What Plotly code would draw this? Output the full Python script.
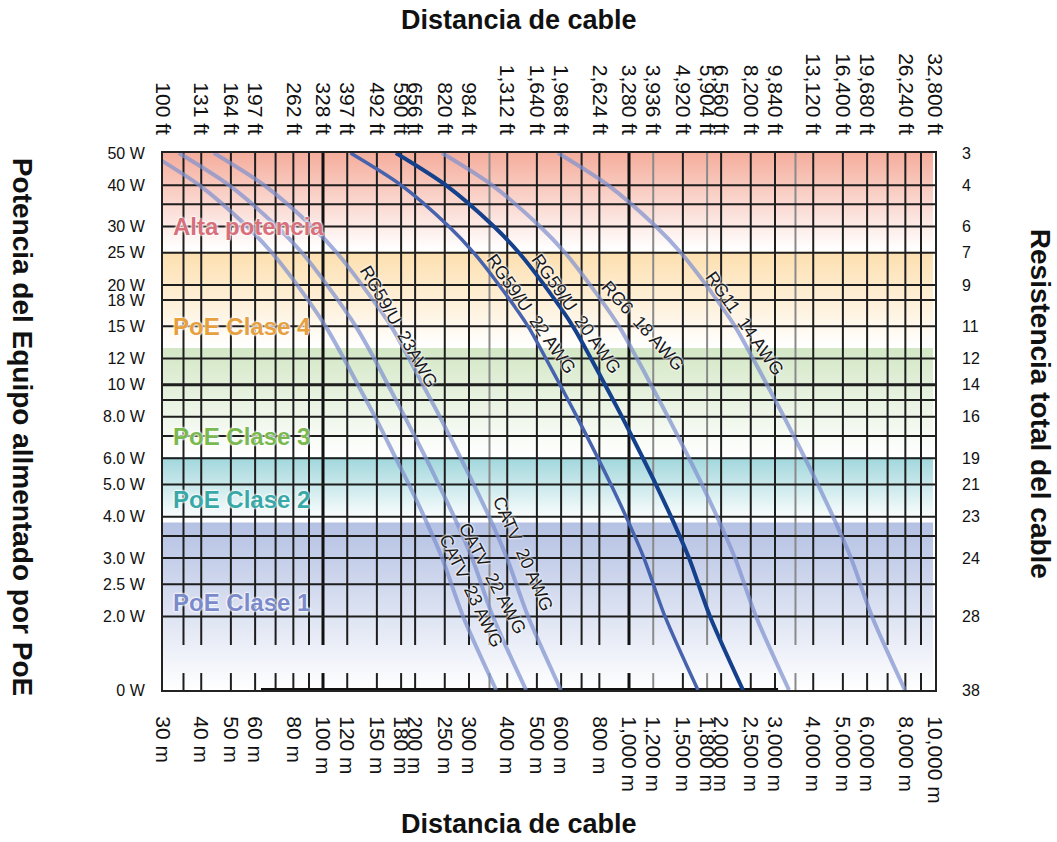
import math
import plotly.graph_objects as go

# ---------------- data ----------------
tick_m = [30, 40, 50, 60, 80, 100, 120, 150, 180, 200, 250, 300, 400, 500, 600, 800,
          1000, 1200, 1500, 1800, 2000, 2500, 3000, 4000, 5000, 6000, 8000, 10000]
tick_m_text = ["30 m", "40 m", "50 m", "60 m", "80 m", "100 m", "120 m", "150 m", "180 m",
               "200 m", "250 m", "300 m", "400 m", "500 m", "600 m", "800 m", "1,000 m",
               "1,200 m", "1,500 m", "1,800 m", "2,000 m", "2,500 m", "3,000 m", "4,000 m",
               "5,000 m", "6,000 m", "8,000 m", "10,000 m"]
tick_ft_text = ["100 ft", "131 ft", "164 ft", "197 ft", "262 ft", "328 ft", "397 ft", "492 ft",
                "590 ft", "656 ft", "820 ft", "984 ft", "1,312 ft", "1,640 ft", "1,968 ft",
                "2,624 ft", "3,280 ft", "3,936 ft", "4,920 ft", "5,904 ft", "6,560 ft",
                "8,200 ft", "9,840 ft", "13,120 ft", "16,400 ft", "19,680 ft", "26,240 ft",
                "32,800 ft"]

grid_m_dark = [35, 40, 50, 60, 70, 80, 90, 120, 150, 180, 200, 250, 300, 400, 500, 600, 700,
               800, 1500, 2000, 2500, 3000, 4000, 5000, 6000, 7000, 8000, 9000]
grid_m_gray = [350, 1200, 1800, 3500]
grid_m_thick = [100, 1000]

power_ticks = [50, 40, 30, 25, 20, 18, 15, 12, 10, 8, 6, 5, 4, 3, 2.5, 2, 1.2]
power_text = ["50 W", "40 W", "30 W", "25 W", "20 W", "18 W", "15 W", "12 W", "10 W",
              "8.0 W", "6.0 W", "5.0 W", "4.0 W", "3.0 W", "2.5 W", "2.0 W", "0 W"]
grid_w = [40, 35, 30, 25, 20, 18, 15, 12, 9, 8, 7, 6, 5, 4, 3.5, 3, 2.5, 2]
grid_w_thick = [10]

res_ticks = [50, 40, 30, 25, 20, 15, 12, 10, 8, 6, 5, 4, 3, 2, 1.2]
res_text = ["3", "4", "6", "7", "9", "11", "12", "14", "16", "19", "21", "23", "24", "28", "38"]

P_MIN, P_MAX = 1.2, 50          # "0 W" sits at the bottom of the log axis
D_MIN, D_MAX = 30, 10000
BAND_X_END = 9850
GAP_TOP, GAP_BOTTOM = 1.64, 1.35
bottom_bar_m = [62.7, 3070]

band_names = ["Alta potencia", "PoE Clase 4", "PoE Clase 3", "PoE Clase 2", "PoE Clase 1"]
band_top = [50, 25.2, 12.9, 6.05, 3.84]
band_bottom = [25.6, 13.0, 6.1, 3.9, 1.2]
band_colors = ["#f5ad9c", "#fddfae", "#d3e7c5", "#9fd6db", "#b4c1e3"]
band_text_colors = ["#d7707b", "#e6a03e", "#79b94f", "#38a9a8", "#7a8acb"]
band_label_w = [30, 15, 7.0, 4.5, 2.2]

curve_power = [50, 40, 30, 25, 20, 15, 12, 10, 8, 6, 5, 4, 3, 2, 1.2]
curve_names = ["CATV 23 AWG", "CATV 22 AWG", "CATV 20 AWG",
               "RG59/U 22 AWG", "RG59/U 20 AWG", "RG6 18 AWG", "RG11 14 AWG"]
catv23_m = [27.0, 39.4, 56.5, 68.1, 82.3, 102, 117, 130, 148, 173, 191, 214, 245, 287, 368]
catv22_m = [33.8, 49.3, 70.7, 85.4, 103, 128, 147, 163, 185, 217, 239, 268, 307, 359, 461]
catv20_m = [44.0, 64.2, 92.1, 111, 134, 167, 191, 212, 241, 282, 311, 349, 399, 468, 599]
rg59_22_m = [123, 180, 258, 311, 376, 468, 535, 595, 676, 792, 873, 978, 1119, 1311, 1680]
rg59_20_m = [173, 252, 362, 437, 528, 656, 751, 835, 949, 1111, 1225, 1372, 1571, 1840, 2358]
rg6_m = [245, 357, 512, 618, 746, 928, 1062, 1180, 1341, 1571, 1732, 1939, 2221, 2601, 3333]
rg11_m = [586, 854, 1225, 1478, 1785, 2220, 2541, 2825, 3210, 3759, 4144, 4642, 5315, 6225, 7977]
curve_m = [catv23_m, catv22_m, catv20_m, rg59_22_m, rg59_20_m, rg6_m, rg11_m]

LIGHT = "rgba(128,146,207,0.72)"
curve_colors = [LIGHT, LIGHT, LIGHT, "#4763ae", "#15418c", LIGHT, LIGHT]
curve_widths = [4, 4, 4, 3.5, 4, 4, 4]

NB = "\u00a0"
label_text = ["RG59/U" + NB * 2 + "23AWG", "RG59/U" + NB * 2 + "22 AWG",
              "RG59/U" + NB * 2 + "20 AWG", "RG6" + NB * 2 + "18 AWG",
              "RG11" + NB * 2 + "14 AWG", "CATV" + NB * 2 + "20 AWG",
              "CATV" + NB * 2 + "22 AWG", "CATV" + NB * 2 + "23 AWG"]
label_m = [176, 478, 671, 1110, 2397, 450, 359, 304]
label_w = [15.0, 16.3, 16.3, 15.0, 15.3, 3.08, 2.6, 2.38]
label_angle = [60, 55, 55, 48, 55, 66, 62, 64]

# ---------------- figure ----------------
fig = go.Figure()

for top, bot, col in zip(band_top, band_bottom, band_colors):
    fig.add_trace(go.Scatter(
        x=[D_MIN, BAND_X_END, BAND_X_END, D_MIN, D_MIN],
        y=[bot, bot, top, top, bot],
        mode="lines", line=dict(width=0), fill="toself",
        fillgradient=dict(type="vertical", colorscale=[[0, "#ffffff"], [1, col]]),
        hoverinfo="skip", showlegend=False))


def vlines(vals):
    xs, ys = [], []
    for v in vals:
        xs += [v, v, None, v, v, None]
        ys += [P_MAX, GAP_TOP, None, GAP_BOTTOM, P_MIN, None]
    return xs, ys


def hlines(vals):
    xs, ys = [], []
    for v in vals:
        xs += [D_MIN, D_MAX, None]
        ys += [v, v, None]
    return xs, ys


for vals, col, w in [(grid_m_gray, "#8a8a8a", 2), (grid_m_dark, "#1e1e1e", 2),
                     (grid_m_thick, "#111111", 3)]:
    xs, ys = vlines(vals)
    fig.add_trace(go.Scatter(x=xs, y=ys, mode="lines", line=dict(color=col, width=w),
                             hoverinfo="skip", showlegend=False))
for vals, w in [(grid_w, 2), (grid_w_thick, 3)]:
    xs, ys = hlines(vals)
    fig.add_trace(go.Scatter(x=xs, y=ys, mode="lines", line=dict(color="#1e1e1e", width=w),
                             hoverinfo="skip", showlegend=False))

fig.add_trace(go.Scatter(x=bottom_bar_m, y=[P_MIN, P_MIN], mode="lines",
                         line=dict(color="#111111", width=4), hoverinfo="skip",
                         showlegend=False, cliponaxis=False))

for name, xs, col, w in zip(curve_names, curve_m, curve_colors, curve_widths):
    fig.add_trace(go.Scatter(x=xs, y=curve_power, mode="lines", name=name,
                             line=dict(color=col, width=w, shape="spline", smoothing=0.8),
                             showlegend=False))

fig.add_trace(go.Scatter(x=[100], y=[10], xaxis="x2", yaxis="y2", mode="markers",
                         marker=dict(opacity=0), hoverinfo="skip", showlegend=False))

halo = "0px 0px 2px #ffffff, 0px 0px 2px #ffffff, 0px 0px 3px #ffffff"
sans = "Liberation Sans, Arial, Helvetica, sans-serif"
for t, m, w, a in zip(label_text, label_m, label_w, label_angle):
    fig.add_annotation(x=math.log10(m), y=math.log10(w), text=t, textangle=a,
                       showarrow=False,
                       font=dict(family=sans, size=18, color="#1a1a1a", shadow=halo))

for name, col, w in zip(band_names, band_text_colors, band_label_w):
    fig.add_annotation(x=math.log10(31.9), y=math.log10(w), text="<b>%s</b>" % name,
                       xanchor="left", showarrow=False,
                       font=dict(family=sans, size=24, color=col, shadow=halo))

title_font = dict(family=sans, size=27, color="#111111")
fig.add_annotation(xref="paper", yref="paper", x=0.461, y=1.0, yshift=133,
                   xanchor="center", yanchor="middle",
                   text="<b>Distancia de cable</b>", showarrow=False, font=title_font)
fig.add_annotation(xref="paper", yref="paper", x=0.461, y=0.0, yshift=-134,
                   xanchor="center", yanchor="middle",
                   text="<b>Distancia de cable</b>", showarrow=False, font=title_font)
fig.add_annotation(xref="paper", yref="paper", x=0.0, xshift=-141, y=0.49,
                   xanchor="center", yanchor="middle",
                   text="<b>Potencia del Equipo allmentado por PoE</b>", textangle=90,
                   showarrow=False, font=dict(family=sans, size=28, color="#111111"))
fig.add_annotation(xref="paper", yref="paper", x=1.0, xshift=105, y=0.533,
                   xanchor="center", yanchor="middle",
                   text="<b>Resistencia total del cable</b>", textangle=90,
                   showarrow=False, font=dict(family=sans, size=28, color="#111111"))

xfont = dict(family=sans, size=21, color="#111111")
yfont = dict(family=sans, size=16, color="#111111")
xr = [math.log10(D_MIN), math.log10(D_MAX)]
yr = [math.log10(P_MIN), math.log10(P_MAX)]
fig.update_layout(
    width=1057, height=842,
    margin=dict(l=163, r=122, t=153, b=152),
    paper_bgcolor="white", plot_bgcolor="white",
    xaxis=dict(type="log", range=xr, tickvals=tick_m, ticktext=tick_m_text, tickangle=90,
               showgrid=False, zeroline=False, ticks="", tickfont=xfont,
               ticklabelstandoff=20, showline=True, linecolor="#222222", linewidth=2,
               mirror=True),
    xaxis2=dict(type="log", range=xr, overlaying="x", side="top", tickvals=tick_m,
                ticktext=tick_ft_text, tickangle=90, showgrid=False, zeroline=False,
                ticks="", tickfont=xfont, ticklabelstandoff=14),
    yaxis=dict(type="log", range=yr, tickvals=power_ticks, ticktext=power_text,
               showgrid=False, zeroline=False, ticks="", tickfont=yfont,
               ticklabelstandoff=13, showline=True, linecolor="#222222", linewidth=2,
               mirror=True),
    yaxis2=dict(type="log", range=yr, overlaying="y", side="right", tickvals=res_ticks,
                ticktext=res_text, showgrid=False, zeroline=False, ticks="",
                tickfont=yfont, ticklabelstandoff=26),
)

fig.write_html("out.html", config={"displayModeBar": False},
               post_script="document.body.style.margin='0px';")
